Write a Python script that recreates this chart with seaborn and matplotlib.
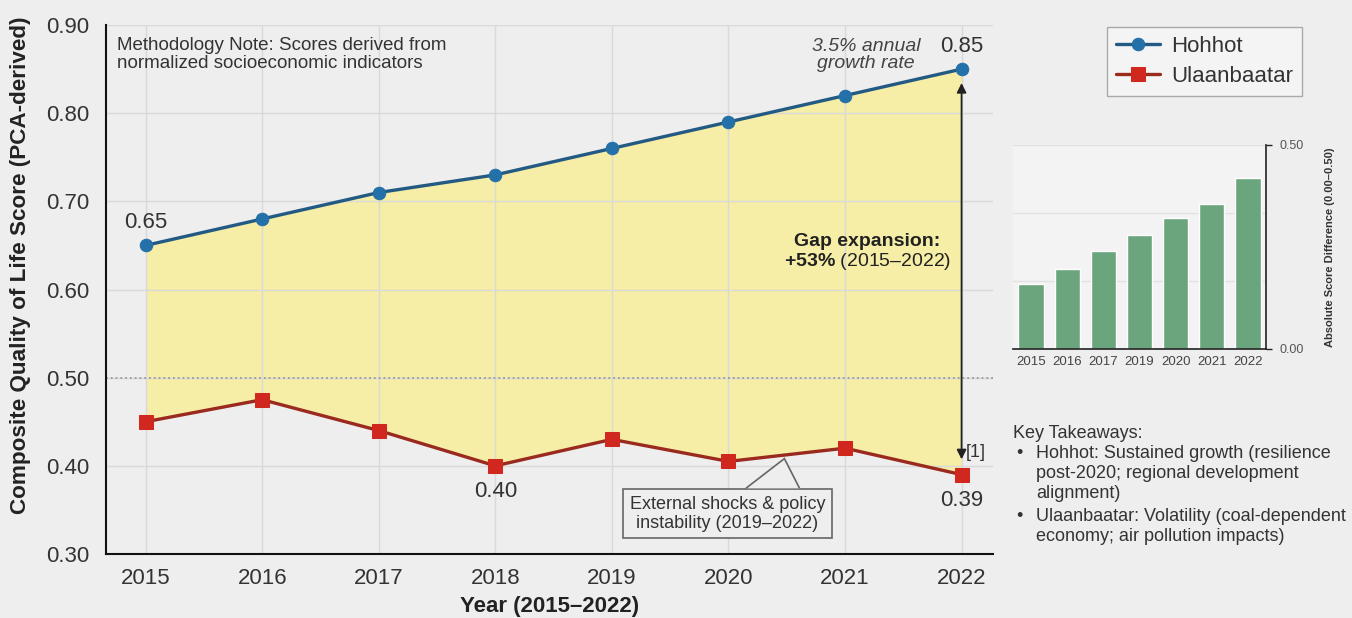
import matplotlib
matplotlib.use("Agg")
import matplotlib.pyplot as plt
from matplotlib.patches import Polygon
import seaborn as sns
import pandas as pd
import numpy as np

# ---------------- data ----------------
years = [2015, 2016, 2017, 2018, 2019, 2020, 2021, 2022]
hohhot = [0.65, 0.68, 0.71, 0.73, 0.76, 0.79, 0.82, 0.85]
ulaanbaatar = [0.45, 0.475, 0.44, 0.40, 0.43, 0.405, 0.42, 0.39]
y_ticks = [0.30, 0.40, 0.50, 0.60, 0.70, 0.80, 0.90]
reference_level = 0.50

gap_years = ["2015", "2016", "2017", "2019", "2020", "2021", "2022"]
gap_values = [0.16, 0.195, 0.24, 0.28, 0.32, 0.355, 0.42]
gap_ticks = [0.0, 0.5]

takeaway_title = "Key Takeaways:"
takeaway_items = [
    "Hohhot: Sustained growth (resilience\npost-2020; regional development\nalignment)",
    "Ulaanbaatar: Volatility (coal-dependent\neconomy; air pollution impacts)",
]

# ---------------- style ----------------
sns.set_theme(style="whitegrid")
plt.rcParams["font.family"] = ["Liberation Sans", "DejaVu Sans"]
plt.rcParams["mathtext.fontset"] = "custom"
plt.rcParams["mathtext.rm"] = "Liberation Sans"
plt.rcParams["mathtext.bf"] = "Liberation Sans:bold"
plt.rcParams["mathtext.it"] = "Liberation Sans:italic"

BG = "#eeeeee"
TXT = "#333333"
BLUE_LINE = "#235a84"
BLUE_MK = "#2470a8"
RED_LINE = "#9b2a1e"
RED_MK = "#d0281f"
FILL = "#f6eea6"
GREEN = "#6ba57e"

fig = plt.figure(figsize=(13.52, 6.18), dpi=100, facecolor=BG)

# ---------------- main axes ----------------
ax = fig.add_axes([0.0784, 0.1036, 0.6561, 0.8559])
ax.set_facecolor(BG)

ax.fill_between(years, ulaanbaatar, hohhot, color=FILL, zorder=0.4, lw=0)
ax.axhline(reference_level, ls=":", color="#9a9a9a", lw=1.3, zorder=0.6)

sns.lineplot(x=years, y=hohhot, ax=ax, color=BLUE_LINE, lw=2.4, marker="o",
             markersize=9, markerfacecolor=BLUE_MK, markeredgecolor=BLUE_MK,
             label="Hohhot", zorder=3)
sns.lineplot(x=years, y=ulaanbaatar, ax=ax, color=RED_LINE, lw=2.4, marker="s",
             markersize=9.5, markerfacecolor=RED_MK, markeredgecolor=RED_MK,
             label="Ulaanbaatar", zorder=3)

ax.set_xlim(years[0] - 0.34, years[-1] + 0.27)
ax.set_ylim(y_ticks[0], y_ticks[-1])
ax.set_xticks(years)
ax.set_yticks(y_ticks)
ax.set_yticklabels([f"{v:.2f}" for v in y_ticks])
ax.grid(True, color="#d9d9d9", lw=1)
ax.set_axisbelow(True)
for s in ["top", "right"]:
    ax.spines[s].set_visible(False)
for s in ["left", "bottom"]:
    ax.spines[s].set_color("#111111")
    ax.spines[s].set_linewidth(1.5)
ax.tick_params(axis="y", length=0, pad=12, labelsize=16, labelcolor=TXT)
ax.tick_params(axis="x", length=0, pad=10, labelsize=16, labelcolor=TXT)
ax.set_xlabel("Year (2015\u20132022)", fontsize=16, fontweight="bold", color="#222222", labelpad=5)
ax.set_ylabel("Composite Quality of Life Score (PCA-derived)", fontsize=16.2,
              fontweight="bold", color="#222222")
ax.yaxis.set_label_coords(-0.084, 0.546)

handles, labels = ax.get_legend_handles_labels()
ax.get_legend().remove()

# value labels
ax.annotate(f"{hohhot[0]:.2f}", (years[0], hohhot[0]), xytext=(0, 9), textcoords="offset points",
            ha="center", va="bottom", fontsize=16, color=TXT)
ax.annotate(f"{hohhot[-1]:.2f}", (years[-1], hohhot[-1]), xytext=(0, 9), textcoords="offset points",
            ha="center", va="bottom", fontsize=16, color=TXT)
ax.annotate(f"{ulaanbaatar[3]:.2f}", (years[3], ulaanbaatar[3]), xytext=(0, -11), textcoords="offset points",
            ha="center", va="top", fontsize=16, color=TXT)
ax.annotate(f"{ulaanbaatar[-1]:.2f}", (years[-1], ulaanbaatar[-1]), xytext=(0, -11), textcoords="offset points",
            ha="center", va="top", fontsize=16, color=TXT)

# methodology note
ax.text(0.012, 0.977, "Methodology Note: Scores derived from\nnormalized socioeconomic indicators",
        transform=ax.transAxes, ha="left", va="top", fontsize=13.5, color=TXT, linespacing=1.05)

# growth-rate note
ax.text(2021.18, 0.866, "3.5% annual\ngrowth rate", ha="center", va="center",
        fontsize=14, style="italic", color="#444444", linespacing=1.05)

# gap arrow
ax.annotate("", xy=(years[-1], hohhot[-1]), xytext=(years[-1], ulaanbaatar[-1]),
            arrowprops=dict(arrowstyle="<|-|>", color="#222222", lw=1.3,
                            shrinkA=11, shrinkB=10, mutation_scale=14), zorder=4)
ax.annotate("[1]", (years[-1], ulaanbaatar[-1]), xytext=(3, 16), textcoords="offset points",
            ha="left", va="center", fontsize=13, color=TXT)

# gap expansion text
ax.text(2021.19, 0.655, "Gap expansion:", ha="center", va="center", fontsize=14,
        fontweight="bold", color="#222222")
ax.text(2021.19, 0.632, r"$\mathbf{+53\%}$ (2015" + "\u2013" + "2022)", ha="center", va="center",
        fontsize=14, color="#222222")

# callout box with pointer
ax.text(2019.99, 0.3455, "External shocks & policy\ninstability (2019\u20132022)",
        ha="center", va="center", fontsize=13, color=TXT, linespacing=1.15,
        bbox=dict(boxstyle="square,pad=0.36", fc=BG, ec="#666666", lw=1.2), zorder=5)
tip_x = 2020.48
tip_y = np.interp(tip_x, years, ulaanbaatar) - 0.004
base_y = 0.3745
pointer = Polygon([(2020.15, base_y), (tip_x, tip_y), (2020.61, base_y)], closed=False,
                  fc=BG, ec="#666666", lw=1.2, zorder=6)
ax.add_patch(pointer)

# ---------------- inset bar chart ----------------
ax2 = fig.add_axes([0.7493, 0.4353, 0.1871, 0.3301])
ax2.set_facecolor("#f3f3f3")
gap_df = pd.DataFrame({"year": gap_years, "gap": gap_values})
sns.barplot(data=gap_df, x="year", y="gap", ax=ax2, color=GREEN, saturation=1, width=0.7, zorder=2)
ax2.set_ylim(gap_ticks[0], gap_ticks[-1])
ax2.set_yticks(gap_ticks)
ax2.set_yticklabels([f"{v:.2f}" for v in gap_ticks])
ax2.set_yticks([gap_ticks[-1] / 3, 2 * gap_ticks[-1] / 3], minor=True)
ax2.yaxis.tick_right()
ax2.yaxis.set_label_position("right")
ax2.grid(False)
ax2.grid(True, axis="y", which="both", color="#e2e2e2", lw=1)
ax2.set_axisbelow(True)
for s in ["top", "left"]:
    ax2.spines[s].set_visible(False)
for s in ["right", "bottom"]:
    ax2.spines[s].set_color("#222222")
    ax2.spines[s].set_linewidth(1.2)
ax2.tick_params(axis="y", which="major", length=4, width=1, color="#222222", pad=6,
                labelsize=9, labelcolor="#555555", right=True)
ax2.tick_params(axis="y", which="minor", length=0)
ax2.tick_params(axis="x", length=0, pad=5, labelsize=9.5, labelcolor="#444444")
ax2.set_xlabel("")
ax2.set_ylabel("Absolute Score Difference (0.00\u20130.50)", fontsize=8, fontweight="bold",
               color="#333333", labelpad=15)

# ---------------- legend ----------------
leg = fig.legend(handles, labels, loc="upper right", bbox_to_anchor=(0.963, 0.956),
                 borderaxespad=0, fontsize=16, frameon=True, fancybox=False, edgecolor="#aaaaaa",
                 facecolor="#f4f4f4", framealpha=1, handlelength=2.0, borderpad=0.4,
                 labelspacing=0.4, handletextpad=0.5)
for t in leg.get_texts():
    t.set_color(TXT)

# ---------------- key takeaways ----------------
fig.text(0.749, 1 - 433 / 618, takeaway_title, ha="left", va="center", fontsize=13, color=TXT)
item_tops = [445, 508]
for item, top in zip(takeaway_items, item_tops):
    fig.text(0.7515, 1 - top / 618, "\u2022", ha="left", va="top", fontsize=13, color=TXT)
    fig.text(0.7665, 1 - top / 618, item, ha="left", va="top", fontsize=13,
             color=TXT, linespacing=1.24)

fig.savefig("out.png", dpi=100, facecolor=BG)
